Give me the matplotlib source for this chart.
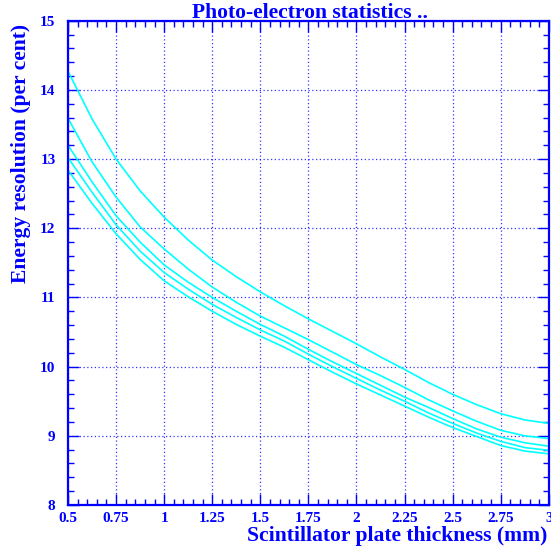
import numpy as np
import matplotlib.pyplot as plt
from matplotlib.ticker import MultipleLocator

# plate thickness (mm)
thickness = [0.5, 0.625, 0.75, 0.875, 1.0, 1.125, 1.25, 1.375, 1.5, 1.625, 1.75,
             1.875, 2.0, 2.125, 2.25, 2.375, 2.5, 2.625, 2.75, 2.875, 3.0]

# energy resolution (per cent), one list per curve, top to bottom
res_1 = [14.27, 13.58, 13.00, 12.54, 12.16, 11.83, 11.54, 11.30, 11.08, 10.88, 10.69,
         10.51, 10.33, 10.14, 9.96, 9.77, 9.60, 9.45, 9.32, 9.23, 9.18]
res_2 = [13.59, 12.96, 12.45, 12.02, 11.70, 11.41, 11.15, 10.93, 10.73, 10.56, 10.39,
         10.21, 10.03, 9.87, 9.70, 9.52, 9.36, 9.21, 9.08, 9.00, 8.96]
res_3 = [13.20, 12.67, 12.18, 11.80, 11.47, 11.22, 11.00, 10.80, 10.61, 10.44, 10.25,
         10.07, 9.90, 9.73, 9.56, 9.41, 9.25, 9.10, 8.98, 8.90, 8.85]
res_4 = [13.02, 12.52, 12.05, 11.67, 11.36, 11.12, 10.90, 10.71, 10.53, 10.37, 10.18,
         10.00, 9.83, 9.66, 9.50, 9.33, 9.18, 9.04, 8.92, 8.83, 8.79]
res_5 = [12.84, 12.36, 11.92, 11.55, 11.24, 11.01, 10.80, 10.61, 10.44, 10.28, 10.10,
         9.92, 9.75, 9.59, 9.43, 9.27, 9.12, 8.99, 8.86, 8.78, 8.74]

xticks = [0.5, 0.75, 1, 1.25, 1.5, 1.75, 2, 2.25, 2.5, 2.75, 3]
xticklabels = ["0.5", "0.75", "1", "1.25", "1.5", "1.75", "2", "2.25", "2.5", "2.75", "3"]

blue = "#0000ff"
plt.rcParams['font.family'] = ['Liberation Serif', 'DejaVu Serif']
plt.rcParams['font.weight'] = 'bold'

fig = plt.figure(figsize=(5.51, 5.50), dpi=100)
ax = fig.add_axes([0.1234, 0.0818, 0.8726, 0.8806])

for r in [res_1, res_2, res_3, res_4, res_5]:
    ax.plot(thickness, r, color="#00ffff", lw=1.2)

ax.set_xlim(0.5, 3.0)
ax.set_ylim(8, 15)
ax.set_xticks(xticks)
ax.set_xticklabels(xticklabels)
ax.xaxis.set_minor_locator(MultipleLocator(0.05))
ax.yaxis.set_major_locator(MultipleLocator(1))
ax.yaxis.set_minor_locator(MultipleLocator(0.2))

ax.grid(True, which="major", color=blue, ls=(0, (1, 2)), lw=0.9, alpha=0.8)

for s in ax.spines.values():
    s.set_color(blue)
    s.set_linewidth(1.6)

ax.tick_params(which="both", direction="in", top=True, right=True, colors=blue,
               labelsize=11, labelcolor=blue)
ax.tick_params(which="major", length=8, width=1)
ax.tick_params(which="minor", length=4, width=1)
ax.tick_params(axis="y", pad=9)
ax.tick_params(axis="x", pad=5)

ax.set_xlabel("Scintillator plate thickness (mm)", fontsize=15.6, color=blue,
              fontweight="bold", loc="right")
ax.set_ylabel("Energy resolution (per cent)", fontsize=15.6, color=blue,
              fontweight="bold", loc="top")
ax.xaxis.set_label_coords(0.998, -0.043)
ax.yaxis.set_label_coords(-0.077, 0.994)
fig.text(0.563, 0.968, "Photo-electron statistics ..", ha="center", va="baseline",
         fontsize=15.6, color=blue, fontweight="bold")

plt.savefig("out.png", dpi=100)
